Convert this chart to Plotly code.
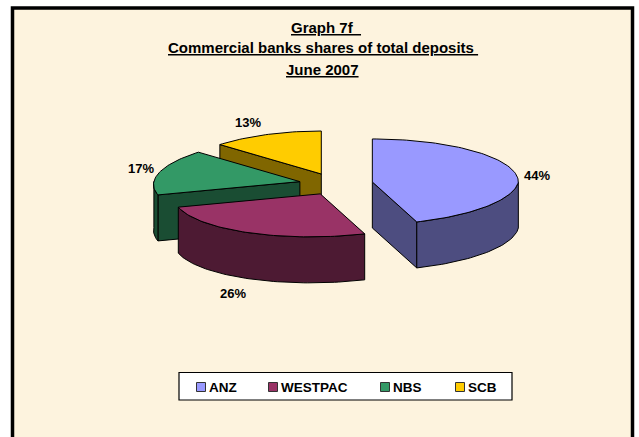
import math
import plotly.graph_objects as go

# Deposit shares by bank, June 2007
banks = ["ANZ", "WESTPAC", "NBS", "SCB"]
shares = [44, 26, 17, 13]
top_colors = ["#9999FF", "#993366", "#339966", "#FFCC00"]
side_colors = ["#4D4D80", "#4D1A33", "#1A4D33", "#806600"]

title_lines = ["Graph 7f\u00a0\u00a0", "Commercial banks shares of total deposits\u00a0", "June 2007"]

# Pie projection, in page pixels
CX, CY = 336, 184
RX, RY = 146, 43
EXPLODE = 37
DEPTH = 46
FRONT_SHEAR = 10
REAR_SHEAR = 5

PAPER = "#FDF3DE"
FONT = "Liberation Sans"
OUTLINE = dict(color="#000000", width=1)


def rim(cx, cy, deg):
    rad = math.radians(deg)
    s, c = math.sin(rad), math.cos(rad)
    # Slight perspective lean of the rim away from the viewing axis
    lean = FRONT_SHEAR * min(c, 0) + REAR_SHEAR * 2 * max(c, 0) * max(-s, 0)
    return cx + RX * s + lean, cy - RY * c


def arc(cx, cy, start, end):
    steps = max(2, int(abs(end - start) / 1.5))
    return [rim(cx, cy, start + (end - start) * i / steps) for i in range(steps + 1)]


def polygon(points, color):
    xs = [p[0] for p in points] + [points[0][0]]
    ys = [p[1] for p in points] + [points[0][1]]
    return go.Scatter(x=xs, y=ys, mode="lines", fill="toself", fillcolor=color,
                      line=OUTLINE, hoverinfo="skip", showlegend=False)


def lowered(points):
    return [(x, y + DEPTH) for x, y in points]


# Slice geometry, clockwise from twelve o'clock
spans = []
running = 0.0
total = sum(shares)
for share in shares:
    start = running
    running += share / total * 360
    spans.append((start, running))

fig = go.Figure()

# Back-to-front drawing order
for i in [3, 2, 1, 0]:
    start, end = spans[i]
    mid = math.radians((start + end) / 2)
    cx = CX + EXPLODE * math.sin(mid)
    cy = CY - EXPLODE * (RY / RX) * math.cos(mid)
    apex = (cx, cy)

    # Cut faces turned toward the viewer
    if 180 < start < 360:
        edge = [apex, rim(cx, cy, start)]
        fig.add_trace(polygon(edge + lowered(edge)[::-1], side_colors[i]))
    if 0 < end < 180:
        edge = [apex, rim(cx, cy, end)]
        fig.add_trace(polygon(edge + lowered(edge)[::-1], side_colors[i]))

    # Outer wall on the front half of the rim
    wall_start, wall_end = max(start, 90), min(end, 270)
    if wall_start < wall_end:
        curve = arc(cx, cy, wall_start, wall_end)
        fig.add_trace(polygon(curve + lowered(curve)[::-1], side_colors[i]))

    # Top face
    fig.add_trace(polygon([apex] + arc(cx, cy, start, end), top_colors[i]))

# Percentage labels
label_positions = [(537, 175), (233, 293), (141, 168), (248, 122)]
for share, (lx, ly) in zip(shares, label_positions):
    fig.add_annotation(x=lx, y=ly, text=f"<b>{share}%</b>", showarrow=False,
                       font=dict(family=FONT, size=13, color="#000000"))

# Title block
for line, (tx, ty) in zip(title_lines, [(326, 27), (323, 47), (322, 69)]):
    fig.add_annotation(x=tx, y=ty, text=f"<b><u>{line}</u></b>", showarrow=False,
                       font=dict(family=FONT, size=15, color="#000000"))

# Legend swatches and names
swatch_x = [201, 273, 385, 460]
legend_y = 387
fig.add_trace(go.Scatter(x=swatch_x, y=[legend_y] * 4, mode="markers",
                         marker=dict(symbol="square", size=9, color=top_colors,
                                     line=dict(color="#333333", width=1)),
                         hoverinfo="skip", showlegend=False))
for name, sx in zip(banks, swatch_x):
    fig.add_annotation(x=sx + 8, y=legend_y, text=f"<b>{name}</b>", showarrow=False,
                       xanchor="left", xshift=-2,
                       font=dict(family=FONT, size=13.5, color="#000000"))

fig.update_layout(
    width=639, height=437,
    margin=dict(l=0, r=0, t=0, b=0),
    paper_bgcolor="#FFFFFF", plot_bgcolor="#FFFFFF",
    xaxis=dict(range=[0, 639], visible=False, fixedrange=True),
    yaxis=dict(range=[437, 0], visible=False, fixedrange=True),
    showlegend=False,
    shapes=[
        dict(type="rect", xref="x", yref="y", x0=12.5, y0=8, x1=632.5, y1=450,
             fillcolor=PAPER, line=dict(color="#000000", width=3.5), layer="below"),
        dict(type="rect", xref="x", yref="y", x0=179, y0=372.5, x1=512, y1=400,
             fillcolor="#FFFFFF", line=dict(color="#000000", width=1.2), layer="below"),
    ],
)

fig.write_html("out.html", config=dict(displayModeBar=False))
